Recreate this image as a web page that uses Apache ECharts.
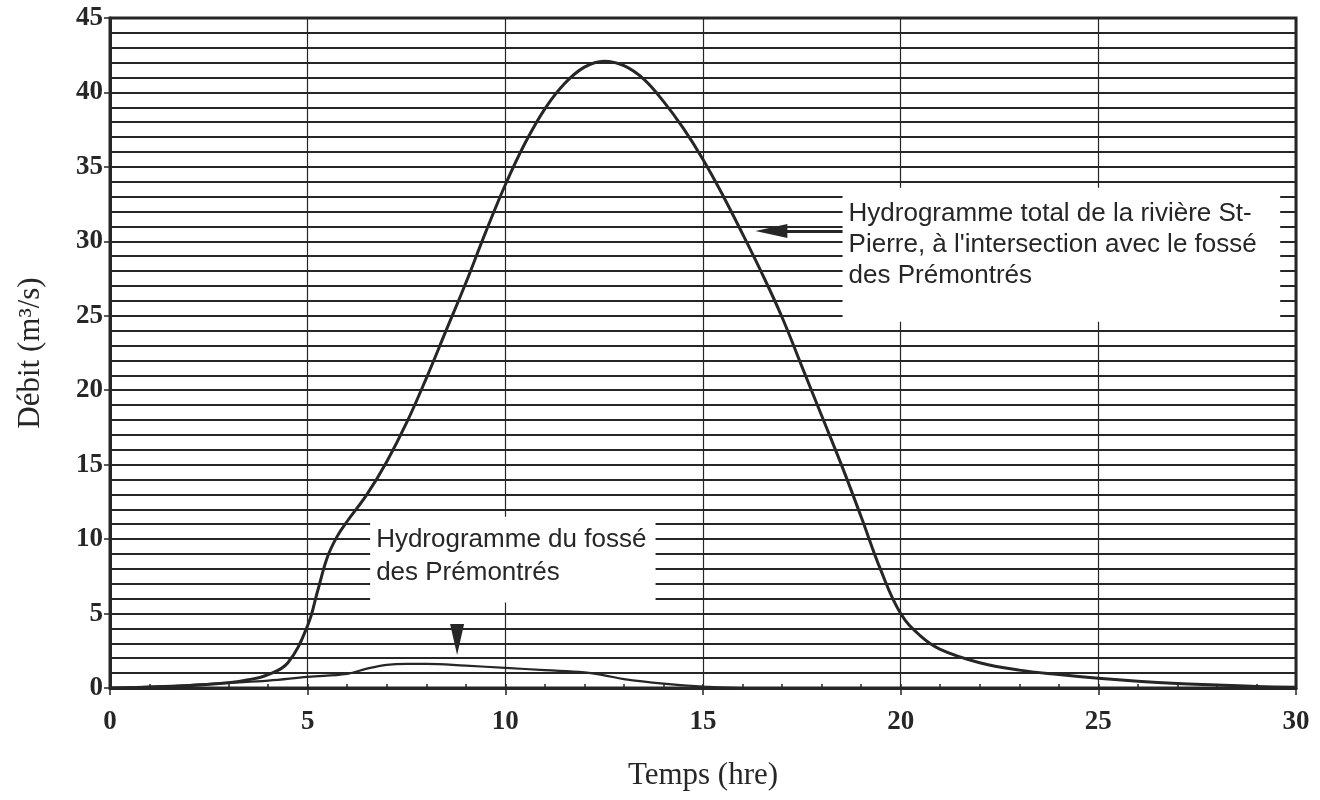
<!DOCTYPE html>
<html>
<head>
<meta charset="utf-8">
<script src="https://cdn.jsdelivr.net/npm/echarts@6/dist/echarts.min.js"></script>
<style>
html,body{margin:0;padding:0;background:#fff;}
#chart{width:1320px;height:800px;}
</style>
</head>
<body>
<div id="chart"></div>
<script>
// ---- Data ----
const timeTotal = [0,1,2,3,3.5,4,4.5,5,5.25,5.5,5.75,6,6.5,7,7.5,8,8.5,9,9.5,10,10.5,11,11.5,12,12.5,13,13.5,14,14.5,15,15.5,16,16.5,17,17.5,18,18.5,19,19.5,20,20.5,21,22,23,24,25,26,27,28,29,30];
const flowTotal = [0,0.05,0.15,0.35,0.55,0.9,1.7,4.2,6.5,8.8,10.2,11.2,13.0,15.2,17.8,20.8,24.0,27.2,30.6,33.8,36.6,38.9,40.6,41.7,42.1,41.8,40.9,39.4,37.6,35.5,33.1,30.5,27.8,24.9,21.6,18.3,15.0,11.5,7.9,5.0,3.5,2.6,1.7,1.2,0.9,0.65,0.45,0.3,0.2,0.1,0.05];

const timeFosse = [0,1,2,3,4,5,6,6.5,7,7.5,8,9,10,11,12,12.5,13,14,15,16,20,25,30];
const flowFosse = [0,0.1,0.2,0.35,0.5,0.75,0.95,1.3,1.55,1.62,1.62,1.5,1.35,1.2,1.05,0.85,0.6,0.3,0.1,0,0,0,0];

const xTickValues = [0,5,10,15,20,25,30];
const yTickValues = [0,5,10,15,20,25,30,35,40,45];

const xTitle = 'Temps (hre)';
const yTitle = 'Débit (m³/s)';
const noteTotal = ["Hydrogramme total de la rivière St-", "Pierre, à l'intersection avec le fossé", "des Prémontrés"];
const noteFosse = ["Hydrogramme du fossé", "des Prémontrés"];

// ---- Build ----
const ink = '#262626';
const pairs = (xs, ys) => xs.map((x, i) => [x, ys[i]]);
const tickFont = {fontFamily: 'Liberation Serif', fontWeight: 'bold', fontSize: 27, color: ink};
const noteFont = {fontFamily: 'Liberation Sans', fontSize: 26, color: ink};

const chart = echarts.init(document.getElementById('chart'), null, {renderer: 'canvas'});
chart.setOption({
  animation: false,
  backgroundColor: '#ffffff',
  grid: {left: 110, right: 24, top: 18, bottom: 112, show: true, borderColor: ink, borderWidth: 3, backgroundColor: 'transparent'},
  xAxis: [
    {
      type: 'value', min: xTickValues[0], max: xTickValues[xTickValues.length - 1], interval: 5,
      position: 'bottom',
      name: xTitle, nameLocation: 'middle', nameGap: 72,
      nameTextStyle: {fontFamily: 'Liberation Serif', fontSize: 31, color: ink},
      axisLine: {show: true, lineStyle: {color: ink, width: 3}},
      axisTick: {show: true, inside: false, length: 7, lineStyle: {color: ink, width: 1.5}},
      axisLabel: Object.assign({margin: 21}, tickFont),
      splitLine: {show: true, lineStyle: {color: ink, width: 1.2}}
    },
    {
      type: 'value', min: 0, max: 30, interval: 1, position: 'bottom', offset: 0,
      axisLine: {show: false},
      axisTick: {show: true, inside: true, length: 4, lineStyle: {color: ink, width: 1.5}},
      axisLabel: {show: false},
      splitLine: {show: false}
    }
  ],
  yAxis: {
    type: 'value', min: yTickValues[0], max: yTickValues[yTickValues.length - 1], interval: 5,
    name: yTitle, nameLocation: 'middle', nameGap: 64, nameRotate: 90,
    nameTextStyle: {fontFamily: 'Liberation Serif', fontSize: 31, color: ink},
    axisLine: {show: true, lineStyle: {color: ink, width: 3}},
    axisTick: {show: true, inside: false, length: 6, lineStyle: {color: ink, width: 1.5}},
    axisLabel: Object.assign({margin: 7}, tickFont),
    splitLine: {show: true, lineStyle: {color: ink, width: 2}},
    minorTick: {show: false, splitNumber: 5},
    minorSplitLine: {show: true, lineStyle: {color: ink, width: 2}}
  },
  series: [
    {
      name: 'total', type: 'line', xAxisIndex: 0, data: pairs(timeTotal, flowTotal),
      smooth: 0.4, showSymbol: false, symbol: 'none',
      lineStyle: {color: ink, width: 3}, z: 5,
      markArea: {
        silent: true,
        itemStyle: {color: '#ffffff', opacity: 1},
        data: [
          [{xAxis: 18.53, yAxis: 33.6, label: {show: true, position: 'insideTopLeft', offset: [1, 6], lineHeight: 31, formatter: noteTotal.join('\n'), ...noteFont}},
           {xAxis: 29.6, yAxis: 24.6}],
          [{xAxis: 6.58, yAxis: 11.5, label: {show: true, position: 'insideTopLeft', offset: [1, 2], lineHeight: 33, formatter: noteFosse.join('\n'), ...noteFont}},
           {xAxis: 13.8, yAxis: 5.75}]
        ]
      },
      markLine: {
        silent: true, symbol: ['none', 'none'], label: {show: false},
        lineStyle: {color: ink, width: 3, type: 'solid'},
        data: [[{coord: [16.9, 30.7]}, {coord: [18.53, 30.7]}]]
      },
      markPoint: {
        silent: true, label: {show: false},
        itemStyle: {color: ink},
        data: [
          {coord: [16.73, 30.7], symbol: 'triangle', symbolSize: [14, 32], symbolRotate: 90},
          {coord: [8.78, 3.25], symbol: 'triangle', symbolSize: [14, 31], symbolRotate: 180}
        ]
      }
    },
    {
      name: 'fosse', type: 'line', xAxisIndex: 0, data: pairs(timeFosse, flowFosse),
      smooth: 0.4, showSymbol: false, symbol: 'none',
      lineStyle: {color: ink, width: 2.2}, z: 4
    }
  ]
});
</script>
</body>
</html>
